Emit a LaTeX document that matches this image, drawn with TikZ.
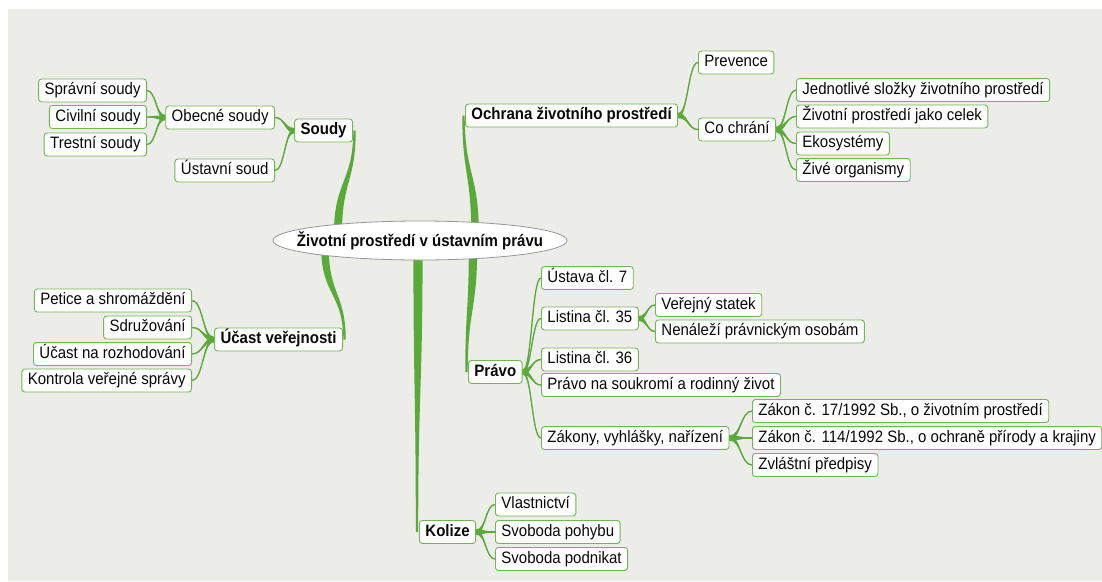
\documentclass[tikz,border=0pt]{standalone}
\usepackage{fontspec}
\setmainfont{Liberation Sans}[FakeStretch=0.91]
\usetikzlibrary{calc,shapes.geometric}
\pgfdeclarelayer{backdrop}
\pgfdeclarelayer{links}
\pgfsetlayers{backdrop,links,main}
\definecolor{paper}{RGB}{236,236,232}
\definecolor{branch}{RGB}{90,170,58}
\definecolor{boxline}{RGB}{112,182,82}
\definecolor{ovalline}{RGB}{150,150,150}
\definecolor{ink}{RGB}{8,8,8}

\tikzset{
  topic/.style={draw=boxline, line width=0.9pt, fill=white, rounded corners=3pt,
    font=\fontsize{16.5}{18}\selectfont, text=ink, inner xsep=6pt, inner ysep=0pt,
    minimum height=23pt, text height=12pt, text depth=3.5pt},
  maintopic/.style={topic, font=\fontsize{16.5}{18}\selectfont\bfseries},
  central/.style={ellipse, draw=ovalline, line width=0.8pt, fill=white,
    minimum width=294pt, minimum height=39pt, inner xsep=-80pt, inner ysep=0pt,
    font=\fontsize{16.5}{18}\selectfont\bfseries, text=ink},
  conn/.style={fill=branch},
  connline/.style={draw=branch, line width=1.3pt},
}

% thin fork from a topic side to a subtopic side, thicker at the parent
\newcommand\forkline[2]{%
  \fill[conn] ($(#1)+(0,-2.6)$)
    .. controls ($(#1)!0.5!(#2|-#1)+(0,-2.6)$) and ($(#2)!0.5!(#1|-#2)+(0,-0.3)$) .. ($(#2)+(0,-0.3)$)
    -- ($(#2)+(0,0.3)$)
    .. controls ($(#2)!0.5!(#1|-#2)+(0,0.3)$) and ($(#1)!0.5!(#2|-#1)+(0,2.6)$) .. ($(#1)+(0,2.6)$) -- cycle;
  \draw[connline] (#1) .. controls ($(#1)!0.5!(#2|-#1)$) and ($(#2)!0.5!(#1|-#2)$) .. (#2);}

% tapered trunk from the central topic to a main topic
\newcommand\trunkline[4]{%
  \fill[conn] ($(#1)+(-#3,0)$)
    .. controls ($(#1)!0.5!(#1|-#2)+(-#3,0)$) and ($(#2)!0.5!(#2|-#1)+(-#4,0)$) .. ($(#2)+(-#4,0)$)
    -- ($(#2)+(#4,0)$)
    .. controls ($(#2)!0.5!(#2|-#1)+(#4,0)$) and ($(#1)!0.5!(#1|-#2)+(#3,0)$) .. ($(#1)+(#3,0)$) -- cycle;}

\begin{document}
\begin{tikzpicture}[x=1pt,y=-1pt]
\useasboundingbox (0,0) rectangle (1102,581);
\begin{pgfonlayer}{backdrop}
  \fill[paper] (8,9) rectangle (1102,581);
\end{pgfonlayer}

% central topic
\node[central] (root) at (420,240.5) {Životní prostředí v ústavním právu};

% Soudy
\node[maintopic, anchor=east] (soudy) at (353,130.5) {Soudy};
\node[topic, anchor=east] (obecne) at (275,117.5) {Obecné soudy};
\node[topic, anchor=east] (ustavni) at (275,170.5) {Ústavní soud};
\node[topic, anchor=east] (spravni) at (147,90.5) {Správní soudy};
\node[topic, anchor=east] (civilni) at (147,117) {Civilní soudy};
\node[topic, anchor=east] (trestni) at (147,144.5) {Trestní soudy};

% Účast veřejnosti
\node[maintopic, anchor=east] (ucast) at (343,339.5) {Účast veřejnosti};
\node[topic, anchor=east] (petice) at (192,300.5) {Petice a shromáždění};
\node[topic, anchor=east] (sdruz) at (192,327.5) {Sdružování};
\node[topic, anchor=east] (rozhod) at (192,354) {Účast na rozhodování};
\node[topic, anchor=east] (kontrola) at (192,380.5) {Kontrola veřejné správy};

% Ochrana životního prostředí
\node[maintopic, anchor=west] (ochrana) at (465,115.5) {Ochrana životního prostředí};
\node[topic, anchor=west] (prevence) at (698,62.5) {Prevence};
\node[topic, anchor=west] (cochrani) at (698,129.5) {Co chrání};
\node[topic, anchor=west] (slozky) at (796,90) {Jednotlivé složky životního prostředí};
\node[topic, anchor=west] (celek) at (796,116.5) {Životní prostředí jako celek};
\node[topic, anchor=west] (ekosys) at (796,143.5) {Ekosystémy};
\node[topic, anchor=west] (organismy) at (796,170) {Živé organismy};

% Právo
\node[maintopic, anchor=west] (pravo) at (468,372) {Právo};
\node[topic, anchor=west] (ustava) at (541,278) {Ústava čl. 7};
\node[topic, anchor=west] (list35) at (541,318.5) {Listina čl. 35};
\node[topic, anchor=west] (statek) at (655,305) {Veřejný statek};
\node[topic, anchor=west] (nenalezi) at (655,331.5) {Nenáleží právnickým osobám};
\node[topic, anchor=west] (list36) at (541,359.5) {Listina čl. 36};
\node[topic, anchor=west] (soukromi) at (541,385) {Právo na soukromí a rodinný život};
\node[topic, anchor=west] (zakony) at (541,438) {Zákony, vyhlášky, nařízení};
\node[topic, anchor=west] (z17) at (752,411) {Zákon č. 17/1992 Sb., o životním prostředí};
\node[topic, anchor=west] (z114) at (752,438) {Zákon č. 114/1992 Sb., o ochraně přírody a krajiny};
\node[topic, anchor=west] (zvlastni) at (752,465) {Zvláštní předpisy};

% Kolize
\node[maintopic, anchor=west] (kolize) at (419,532) {Kolize};
\node[topic, anchor=west] (vlast) at (495,504.5) {Vlastnictví};
\node[topic, anchor=west] (pohyb) at (495,532) {Svoboda pohybu};
\node[topic, anchor=west] (podnikat) at (495,559) {Svoboda podnikat};

% trunk ends
\coordinate (rSoudy) at ($(root.center)+(-82,-8)$);
\coordinate (rOchrana) at ($(root.center)+(55,-8)$);
\coordinate (rUcast) at ($(root.center)+(-95,8)$);
\coordinate (rKolize) at ($(root.center)+(-2,8)$);
\coordinate (rPravo) at ($(root.center)+(53,8)$);
\coordinate (tSoudy) at ($(soudy.east)+(1.5,0)$);
\coordinate (tOchrana) at ($(ochrana.west)+(-1.5,0)$);
\coordinate (tUcast) at ($(ucast.east)+(1.5,0)$);
\coordinate (tKolize) at ($(kolize.west)+(-2,0)$);
\coordinate (tPravo) at ($(pravo.west)+(-1.5,0)$);

\begin{pgfonlayer}{links}
  \trunkline{rSoudy}{tSoudy}{4}{1.2}
  \trunkline{rOchrana}{tOchrana}{3.8}{1.2}
  \trunkline{rUcast}{tUcast}{3.8}{1.2}
  \trunkline{rKolize}{tKolize}{4.6}{1.2}
  \trunkline{rPravo}{tPravo}{4.2}{1.2}

  \forkline{soudy.west}{obecne.east}
  \forkline{soudy.west}{ustavni.east}
  \forkline{obecne.west}{spravni.east}
  \forkline{obecne.west}{civilni.east}
  \forkline{obecne.west}{trestni.east}

  \forkline{ucast.west}{petice.east}
  \forkline{ucast.west}{sdruz.east}
  \forkline{ucast.west}{rozhod.east}
  \forkline{ucast.west}{kontrola.east}

  \forkline{ochrana.east}{prevence.west}
  \forkline{ochrana.east}{cochrani.west}
  \forkline{cochrani.east}{slozky.west}
  \forkline{cochrani.east}{celek.west}
  \forkline{cochrani.east}{ekosys.west}
  \forkline{cochrani.east}{organismy.west}

  \forkline{pravo.east}{ustava.west}
  \forkline{pravo.east}{list35.west}
  \forkline{pravo.east}{list36.west}
  \forkline{pravo.east}{soukromi.west}
  \forkline{pravo.east}{zakony.west}
  \forkline{list35.east}{statek.west}
  \forkline{list35.east}{nenalezi.west}
  \forkline{zakony.east}{z17.west}
  \forkline{zakony.east}{z114.west}
  \forkline{zakony.east}{zvlastni.west}

  \forkline{kolize.east}{vlast.west}
  \forkline{kolize.east}{pohyb.west}
  \forkline{kolize.east}{podnikat.west}
\end{pgfonlayer}
\end{tikzpicture}
\end{document}
